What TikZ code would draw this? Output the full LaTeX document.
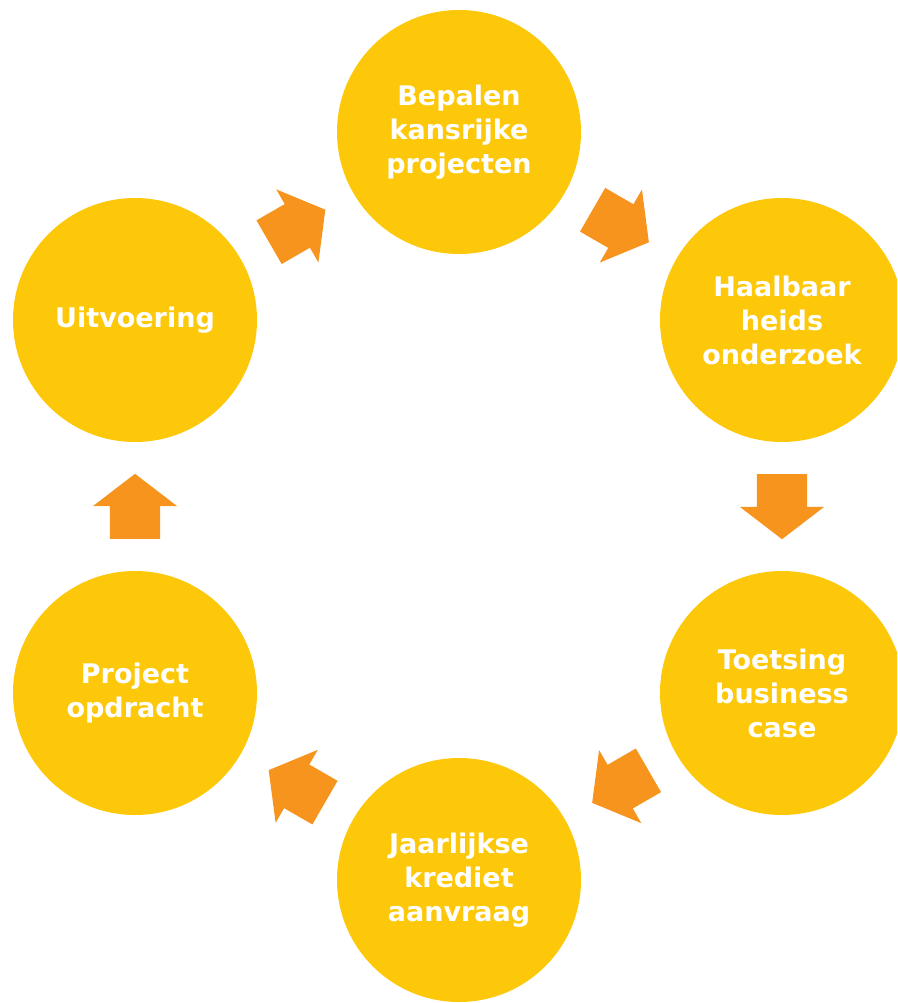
\documentclass[tikz,border=0pt]{standalone}
\usepackage{fontspec}
\setsansfont{DejaVu Sans}
\usetikzlibrary{positioning,shapes.arrows,calc}

\definecolor{kring}{RGB}{253,200,10}
\definecolor{pijlkleur}{RGB}{247,148,30}

\begin{document}
\begin{tikzpicture}[x=1pt,y=1pt,on grid,node distance=188pt and 323pt,
                    stap node/.style={circle,fill=kring,minimum size=244pt,inner sep=0pt,
                      align=center,text=white,font=\sffamily\bfseries\fontsize{27}{34}\selectfont},
                    pijl/.style={single arrow,fill=pijlkleur,inner xsep=0pt,inner ysep=25pt,
                      minimum height=65pt,single arrow head extend=17pt,
                      single arrow head indent=0pt,single arrow tip angle=105,anchor=tail}]

  \path[use as bounding box,clip] (0,0) rectangle (897,-1003);

  \node[stap node] (bepalen) at (459,-132) {Bepalen\\kansrijke\\projecten};
  \node[stap node] (haalbaar) [below right=188pt and 323pt of bepalen] {Haalbaar\\heids\\onderzoek};
  \node[stap node] (toetsing) [below=373pt of haalbaar] {Toetsing\\business\\case};
  \node[stap node] (jaarlijks) [below left=187pt and 323pt of toetsing] {Jaarlijkse\\krediet\\aanvraag};
  \node[stap node] (project) [above left=187pt and 324pt of jaarlijks] {Project\\opdracht};
  \node[stap node] (uitvoering) [above=373pt of project] {Uitvoering};

  % pijlen tussen de stappen
  \node[pijl,rotate=30] (p1) at ($(uitvoering)!0.5!(bepalen)!32.5pt!(uitvoering)$) {};
  \node[pijl,rotate=-30] (p2) at ($(bepalen)!0.5!(haalbaar)!32.5pt!(bepalen)$) {};
  \node[pijl,rotate=-90] (p3) at ($(haalbaar)!0.5!(toetsing)!32.5pt!(haalbaar)$) {};
  \node[pijl,rotate=-150] (p4) at ($(toetsing)!0.5!(jaarlijks)!32.5pt!(toetsing)$) {};
  \node[pijl,rotate=150] (p5) at ($(jaarlijks)!0.5!(project)!32.5pt!(jaarlijks)$) {};
  \node[pijl,rotate=90] (p6) at ($(project)!0.5!(uitvoering)!32.5pt!(project)$) {};
\end{tikzpicture}
\end{document}
